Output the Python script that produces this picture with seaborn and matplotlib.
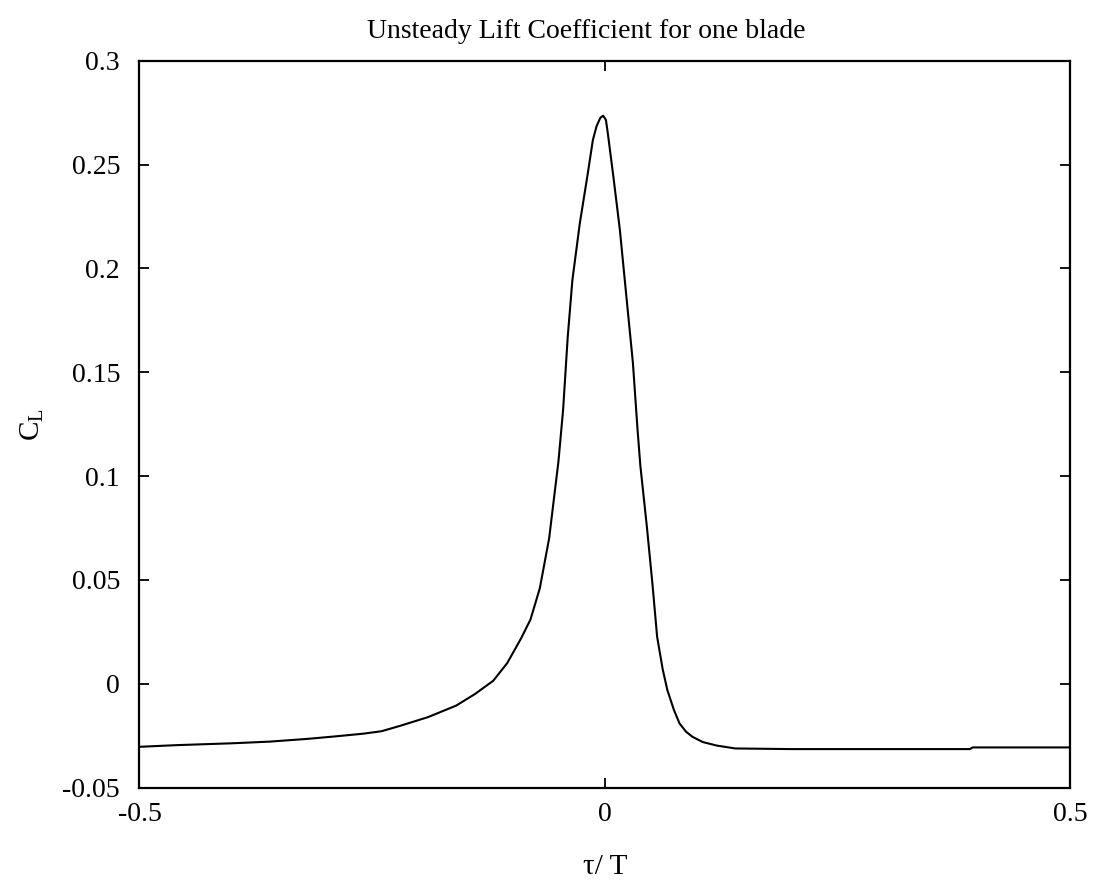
import pandas as pd
import matplotlib
matplotlib.use("Agg")
from matplotlib import pyplot as plt
import seaborn as sns

# tau/T positions and lift coefficient
tau = [-0.5, -0.46, -0.40, -0.36, -0.32, -0.29, -0.26, -0.24, -0.22, -0.19,
       -0.16, -0.14, -0.12, -0.105, -0.09, -0.08, -0.07, -0.06, -0.05, -0.045,
       -0.04, -0.035, -0.027, -0.019, -0.013, -0.009, -0.005, -0.002, 0.001, 0.003,
       0.009, 0.016, 0.023, 0.030, 0.035, 0.038, 0.045, 0.051, 0.056, 0.062,
       0.067, 0.074, 0.080, 0.087, 0.094, 0.105, 0.12, 0.14, 0.20, 0.392,
       0.395, 0.5]
cl = [-0.0303, -0.0295, -0.0286, -0.0278, -0.0265, -0.0253, -0.0240, -0.0228, -0.0202, -0.0160,
      -0.0105, -0.0050, 0.0015, 0.0100, 0.0220, 0.0310, 0.0460, 0.0700, 0.1070, 0.1318,
      0.1671, 0.1944, 0.2218, 0.2442, 0.2618, 0.2685, 0.2725, 0.2735, 0.2715, 0.2652,
      0.2442, 0.2185, 0.1864, 0.1545, 0.1222, 0.1050, 0.0756, 0.0480, 0.0227, 0.0070,
      -0.0030, -0.0125, -0.0190, -0.0230, -0.0255, -0.0280, -0.0297, -0.0311, -0.0314, -0.0314,
      -0.0306, -0.0306]

xticks = [-0.5, 0, 0.5]
xticklabels = ["-0.5", "0", "0.5"]
yticks = [-0.05, 0, 0.05, 0.1, 0.15, 0.2, 0.25, 0.3]
yticklabels = ["-0.05", "0", "0.05", "0.1", "0.15", "0.2", "0.25", "0.3"]

df = pd.DataFrame({"tau": tau, "CL": cl})

sns.set_style("ticks")
plt.rcParams['font.family'] = ['Liberation Serif', 'DejaVu Serif']
plt.rcParams['mathtext.fontset'] = 'custom'
plt.rcParams['mathtext.rm'] = 'Liberation Serif'
plt.rcParams['text.color'] = 'black'
plt.rcParams['axes.labelcolor'] = 'black'

fig = plt.figure(figsize=(10.94, 8.92), dpi=100)
ax = fig.add_axes([0.1275, 0.1169, 0.851, 0.8151])

sns.lineplot(x="tau", y="CL", data=df, color='black', linewidth=1.5, ax=ax)

ax.set_xlim(-0.5, 0.5)
ax.set_ylim(-0.05, 0.3)
ax.set_xticks(xticks)
ax.set_xticklabels(xticklabels)
ax.set_yticks(yticks)
ax.set_yticklabels(yticklabels)
ax.tick_params(direction='in', length=7.5, width=1.3, labelsize=20,
               top=True, right=True, colors='black')
ax.tick_params(axis='x', pad=10)
ax.tick_params(axis='y', pad=14)
for s in ax.spines.values():
    s.set_visible(True)
    s.set_linewidth(1.6)
    s.set_color('black')

ax.set_xlabel("τ/ T", fontsize=21, labelpad=20, color='black')
ax.set_ylabel(r"C$_\mathregular{L}$", fontsize=21, color='black')
ax.yaxis.set_label_coords(-0.10, 0.5)
ax.set_title("Unsteady Lift Coefficient for one blade", fontsize=20, pad=16, x=0.48,
             color='black')

fig.savefig("out.png", dpi=100)
